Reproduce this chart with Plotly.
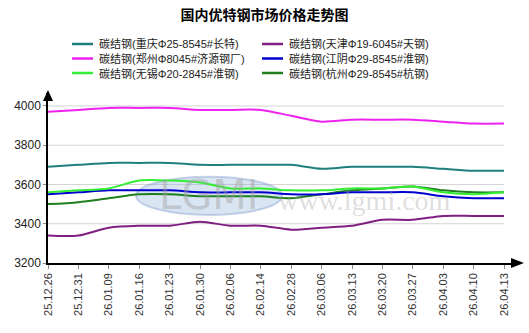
import plotly.graph_objects as go

dates = ["25.12.26", "25.12.31", "26.01.09", "26.01.16", "26.01.23", "26.01.30", "26.02.06", "26.02.14",
         "26.02.28", "26.03.06", "26.03.13", "26.03.20", "26.03.27", "26.04.03", "26.04.10", "26.04.13"]

names = ["碳结钢(重庆Φ25-8545#长特)", "碳结钢(天津Φ19-6045#天钢)", "碳结钢(郑州Φ8045#济源钢厂)",
         "碳结钢(江阴Φ29-8545#淮钢)", "碳结钢(无锡Φ20-2845#淮钢)", "碳结钢(杭州Φ29-8545#杭钢)"]
colors = ["#1f7f7f", "#7f1f7f", "#ee22ee", "#0000cc", "#33ee33", "#1f7f1f"]

chongqing = [3690, 3700, 3710, 3710, 3710, 3700, 3700, 3700, 3700, 3680, 3690, 3690, 3690, 3680, 3670, 3670]
tianjin = [3340, 3340, 3380, 3390, 3390, 3410, 3390, 3390, 3370, 3380, 3390, 3420, 3420, 3440, 3440, 3440]
zhengzhou = [3970, 3980, 3990, 3990, 3990, 3980, 3980, 3980, 3950, 3920, 3930, 3930, 3930, 3920, 3910, 3910]
jiangyin = [3550, 3560, 3570, 3570, 3570, 3560, 3560, 3560, 3550, 3550, 3560, 3560, 3560, 3540, 3530, 3530]
wuxi = [3560, 3570, 3580, 3620, 3620, 3610, 3580, 3580, 3570, 3570, 3580, 3580, 3590, 3560, 3550, 3560]
hangzhou = [3500, 3510, 3530, 3550, 3550, 3540, 3540, 3540, 3530, 3550, 3570, 3580, 3590, 3570, 3560, 3560]

series = [chongqing, tianjin, zhengzhou, jiangyin, wuxi, hangzhou]
y_ticks = [3200, 3400, 3600, 3800, 4000]

W, H = 529, 333
L, R, T, B = 48, 529 - 515, 93, 333 - 263

fig = go.Figure()
xs = list(range(len(dates)))
order = [2, 0, 1, 5, 3, 4]
for i in order:
    fig.add_trace(go.Scatter(x=xs, y=series[i], mode="lines", name=names[i],
                             line=dict(color=colors[i], width=2, shape="spline", smoothing=0.8),
                             showlegend=False, hoverinfo="skip"))

shapes = []
for v in y_ticks[1:]:
    shapes.append(dict(type="line", xref="x", yref="y", x0=0, x1=len(dates) - 1, y0=v, y1=v,
                       line=dict(color="#d4d4d4", width=1), layer="below"))
shapes.append(dict(type="circle", xref="x", yref="y", x0=2.9, x1=7.7, y0=3445, y1=3640,
                   fillcolor="rgba(150,180,220,0.35)", line=dict(color="rgba(120,150,200,0.4)", width=2),
                   layer="below"))


def px(x):
    return (x - L) / (W - L - R)


def py(y):
    return (H - B - y) / (H - B - T)


shapes.append(dict(type="path", xref="paper", yref="paper",
                   path=f"M {px(43)} {py(101)} L {px(48)} {py(90)} L {px(53)} {py(101)} Z",
                   fillcolor="black", line=dict(color="black", width=0)))
shapes.append(dict(type="path", xref="paper", yref="paper",
                   path=f"M {px(511)} {py(258)} L {px(524)} {py(263)} L {px(511)} {py(268)} Z",
                   fillcolor="black", line=dict(color="black", width=0)))

annotations = []
annotations.append(dict(x=5.3, y=3545, xref="x", yref="y", text="LGMI", showarrow=False,
                        font=dict(size=40, color="rgba(160,160,160,0.45)", family="DejaVu Sans")))
annotations.append(dict(x=10.4, y=3520, xref="x", yref="y", text="www.lgmi.com", showarrow=False,
                        font=dict(size=28, color="rgba(170,170,170,0.4)", family="Liberation Serif")))

row_y = [44, 58.5, 73]
cols = [(72, [0, 2, 4]), (262, [1, 3, 5])]
for lx, idxs in cols:
    for r, i in enumerate(idxs):
        shapes.append(dict(type="line", xref="paper", yref="paper", x0=px(lx), x1=px(lx + 21),
                           y0=py(row_y[r]), y1=py(row_y[r]), line=dict(color=colors[i], width=2.5)))
        annotations.append(dict(x=px(lx + 25), y=py(row_y[r]), xref="paper", yref="paper",
                                text=names[i], showarrow=False, xanchor="left", yanchor="middle",
                                font=dict(size=11, color="#222222",
                                          family="Liberation Sans, Noto Sans CJK SC")))

fig.update_layout(
    width=W, height=H,
    margin=dict(l=L, r=R, t=T, b=B),
    paper_bgcolor="white", plot_bgcolor="white",
    title=dict(text="<b>国内优特钢市场价格走势图</b>", x=0.5, xanchor="center", y=1 - 15 / H, yanchor="middle",
               font=dict(size=14, color="black", family="Noto Sans CJK SC")),
    xaxis=dict(range=[0, (515 - 48) / 30.4], tickmode="array", tickvals=xs, ticktext=dates,
               tickangle=-90, showgrid=False, zeroline=False, showline=True, linecolor="black",
               linewidth=1.5, ticks="outside", ticklen=4, tickcolor="#888888",
               tickfont=dict(size=11, color="#333333", family="Liberation Sans"), fixedrange=True),
    yaxis=dict(range=[3200, 4066], tickmode="array", tickvals=y_ticks, showgrid=False, zeroline=False,
               showline=True, linecolor="black", linewidth=1.5, ticks="outside", ticklen=3,
               tickcolor="#888888", tickfont=dict(size=12, color="#222222", family="Liberation Sans"),
               fixedrange=True),
    shapes=shapes, annotations=annotations,
)

fig.write_html("out.html")
